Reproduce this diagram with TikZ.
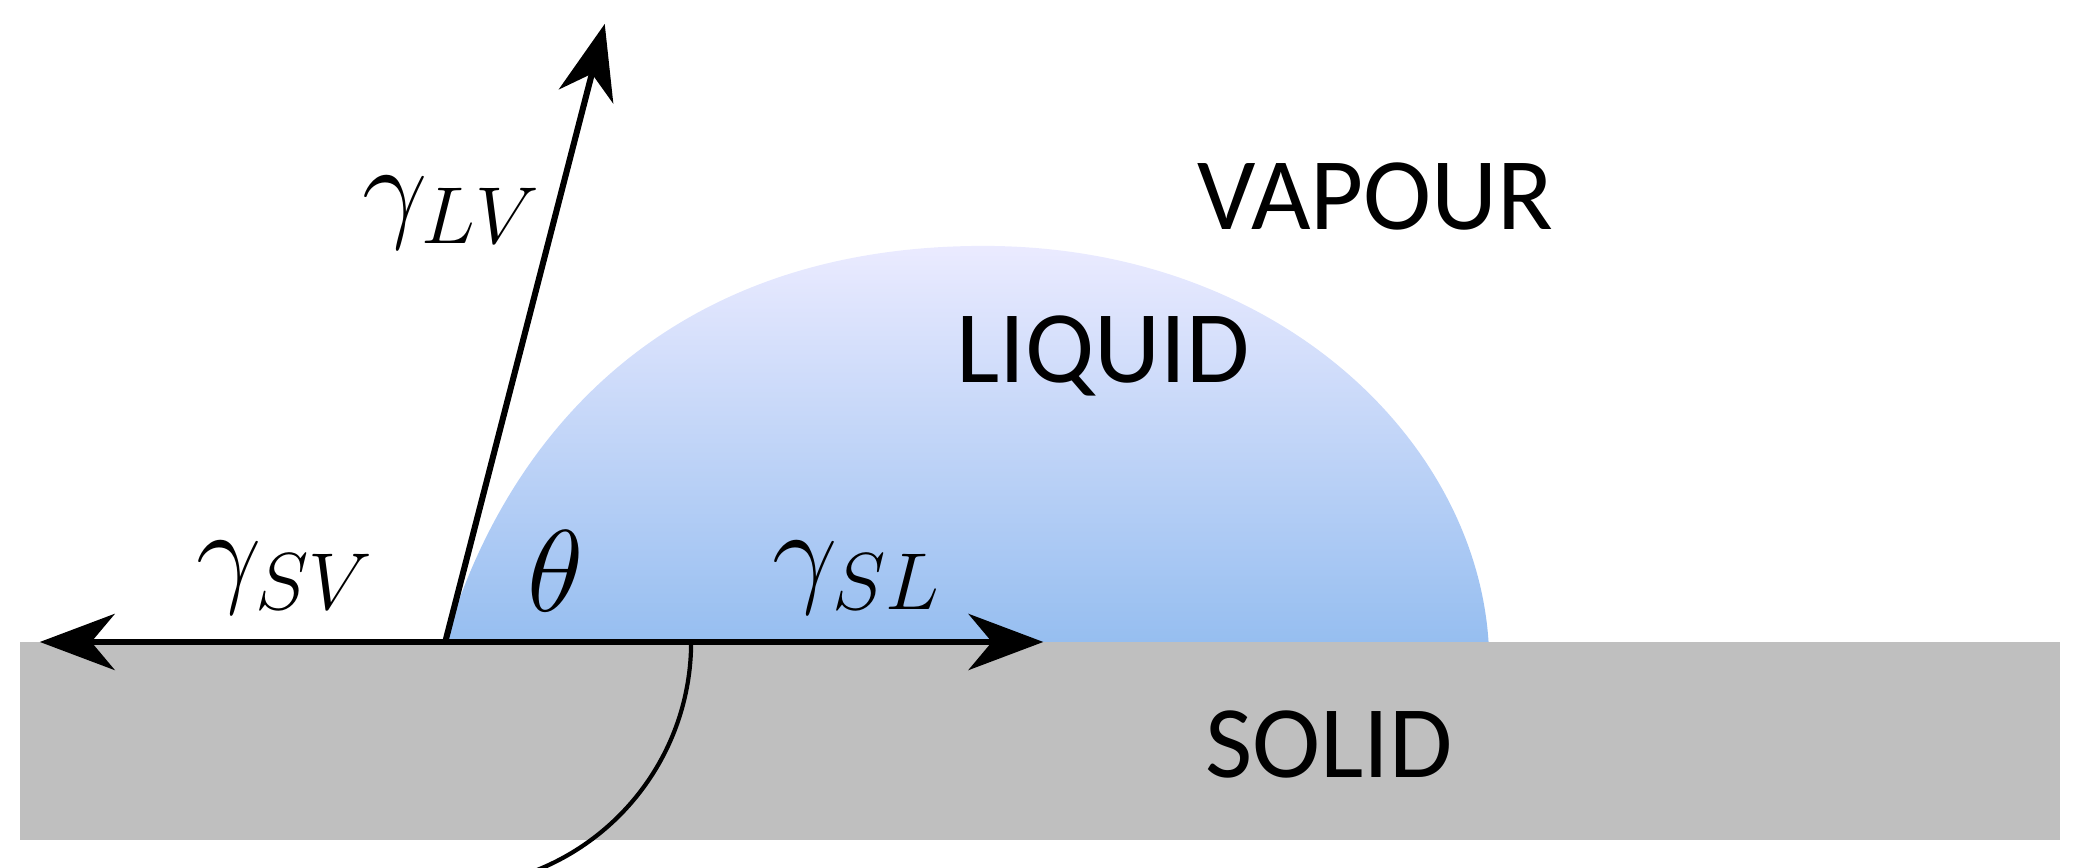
\documentclass[tikz,border=0pt]{standalone}
\usepackage{fontspec}
\setmainfont{Carlito}
\usetikzlibrary{arrows.meta}
\begin{document}
\begin{tikzpicture}[x=0.01cm,y=-0.01cm,
  vec/.style={line width=1.3pt,-{Stealth[length=16pt,width=12pt,inset=5pt]}},
  lbl/.style={font=\fontsize{22}{24}\selectfont},
  glbl/.style={font=\fontsize{24}{26}\selectfont}]
\useasboundingbox (0,0) rectangle (1568,653);
\fill[gray!50] (15,483) rectangle (1550,632);
\shade[top color=blue!8, bottom color={rgb,255:red,150;green,190;blue,240}]
  (335,483) .. controls (380,330) and (500,185) .. (740,185)
  .. controls (960,185) and (1110,330) .. (1120,483) -- cycle;
\coordinate (O) at (335,483);
\coordinate (L) at (30,483);
\coordinate (R) at (785,483);
\coordinate (U) at (455,18);
\draw[vec] (O) -- (L);
\draw[vec] (O) -- (R);
\draw[vec] (O) -- (U);
\draw[line width=0.9pt] (520,483) arc[start angle=0,end angle=75.5,radius=185];
\node[glbl] (gsv) at (215,435) {$\gamma_{SV}$};
\node[glbl] (th) at (418,430) {$\theta$};
\node[glbl] (gsl) at (645,435) {$\gamma_{SL}$};
\node[glbl] (glv) at (340,160) {$\gamma_{LV}$};
\node[lbl] (vap) at (1035,148) {VAPOUR};
\node[lbl] (liq) at (830,268) {LIQUID};
\node[lbl] (sol) at (1000,560) {SOLID};
\end{tikzpicture}
\end{document}
